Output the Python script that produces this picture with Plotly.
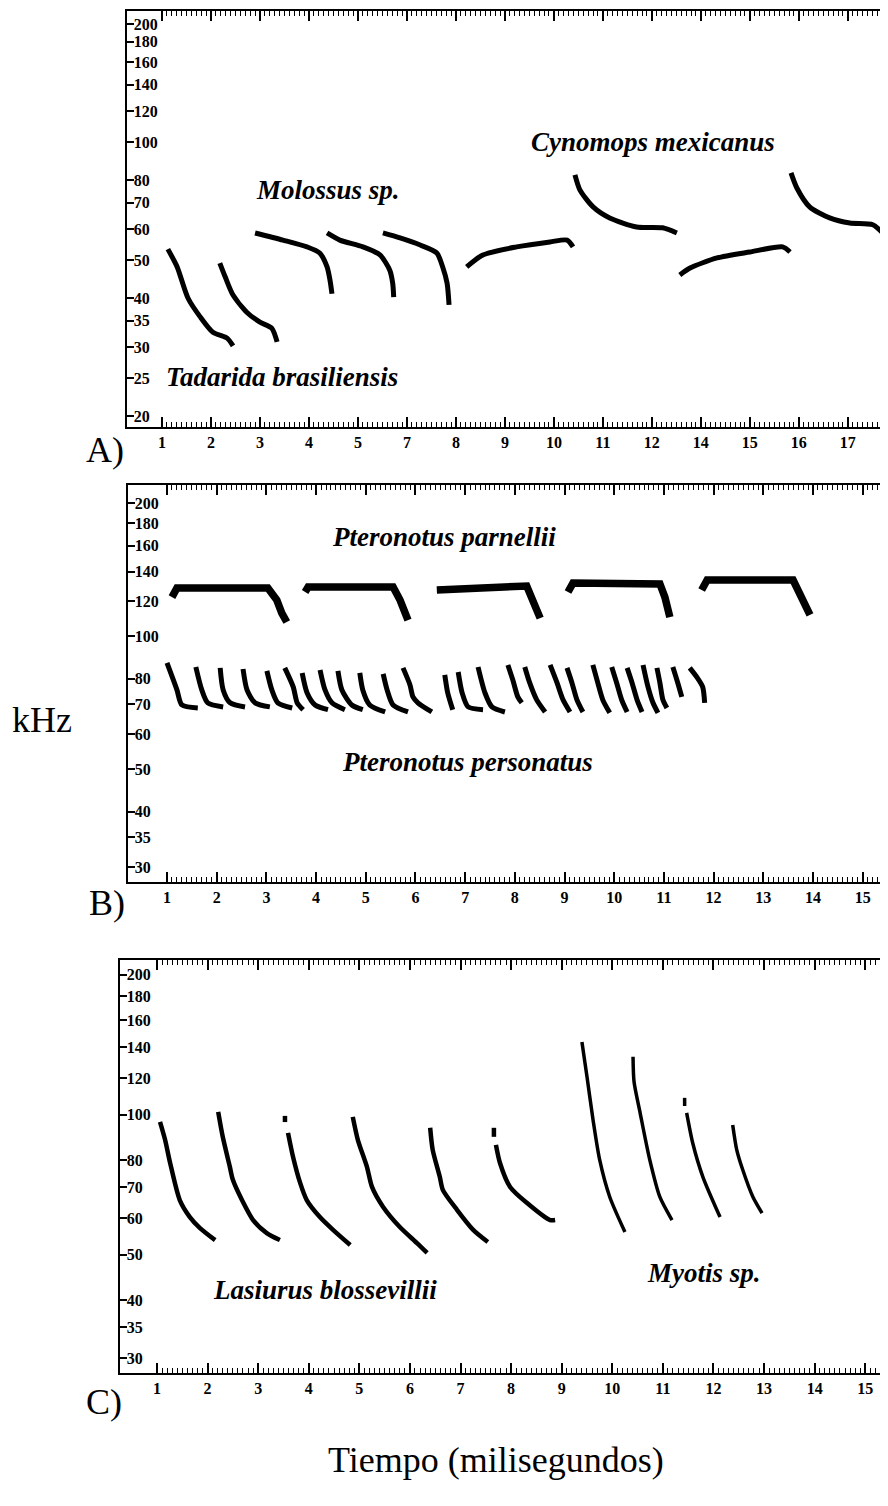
import numpy as np
import plotly.graph_objects as go

# ---------------- DATA ----------------
A_tick_pos = list(range(1, 16))
A_tick_text = ["1", "2", "3", "4", "5", "7", "8", "9", "10", "11", "12", "14", "15", "16", "17"]
B_tick_pos = list(range(1, 16))
B_tick_text = [str(i) for i in range(1, 16)]
C_tick_pos = list(range(1, 16))
C_tick_text = [str(i) for i in range(1, 16)]

A_freq_ticks = [20, 25, 30, 35, 40, 50, 60, 70, 80, 100, 120, 140, 160, 180, 200]
BC_freq_ticks = [30, 35, 40, 50, 60, 70, 80, 100, 120, 140, 160, 180, 200]

# Panel A calls (time, kHz)
tadarida_t = [[1.12, 1.31, 1.53, 1.78, 2.04, 2.33, 2.45],
              [2.18, 2.29, 2.45, 2.73, 3.00, 3.24, 3.35]]
tadarida_f = [[53.3, 48.0, 40.0, 35.8, 32.7, 31.6, 30.2],
              [49.1, 45.3, 40.7, 36.8, 34.7, 33.5, 30.9]]

molossus_t = [[2.90, 3.47, 3.96, 4.22, 4.37, 4.43, 4.47],
              [4.37, 4.63, 5.10, 5.45, 5.65, 5.71, 5.73],
              [5.51, 5.86, 6.27, 6.61, 6.73, 6.82, 6.86]]
molossus_f = [[58.6, 56.2, 54.0, 52.1, 48.0, 44.4, 41.0],
              [58.6, 56.2, 54.0, 51.5, 47.1, 43.6, 40.2],
              [58.6, 56.9, 54.6, 52.1, 48.0, 43.6, 38.4]]

upsweep_t = [[7.22, 7.55, 8.24, 8.92, 9.27, 9.39],
             [11.57, 11.78, 12.33, 13.00, 13.67, 13.82]]
upsweep_f = [[48.0, 51.5, 54.0, 55.6, 56.2, 54.0],
             [45.8, 47.7, 50.6, 52.4, 54.0, 52.4]]

cynomops_t = [[9.43, 9.53, 9.80, 10.14, 10.69, 11.22, 11.51],
              [13.84, 13.96, 14.22, 14.63, 15.04, 15.51, 15.71]]
cynomops_f = [[82.4, 75.5, 68.3, 64.0, 60.7, 60.4, 58.6],
              [83.4, 76.3, 68.3, 64.0, 62.1, 61.5, 58.6]]

# Panel B calls
parnellii_t = [[1.10, 1.20, 3.03, 3.21, 3.31, 3.41],
               [3.78, 3.84, 5.55, 5.69, 5.85],
               [6.43, 8.24, 8.40, 8.51],
               [9.07, 9.17, 10.92, 11.02, 11.12],
               [11.76, 11.87, 13.60, 13.74, 13.94]]
parnellii_f = [[122.5, 128.5, 128.5, 120.6, 112.7, 107.6],
               [125.8, 129.1, 129.1, 120.6, 108.7],
               [127.1, 129.8, 117.5, 109.8],
               [125.8, 131.8, 131.2, 122.5, 110.4],
               [127.1, 133.9, 133.9, 125.1, 111.6]]

personatus_t = [[1.00, 1.20, 1.30, 1.62], [1.58, 1.70, 1.82, 2.13], [2.07, 2.13, 2.27, 2.57],
                [2.53, 2.61, 2.77, 3.07], [3.01, 3.11, 3.23, 3.52], [3.37, 3.54, 3.62, 3.74],
                [3.72, 3.82, 3.98, 4.24], [4.08, 4.18, 4.32, 4.58], [4.44, 4.52, 4.72, 4.94],
                [4.88, 4.94, 5.08, 5.39], [5.35, 5.43, 5.55, 5.85], [5.75, 5.89, 5.95, 6.05, 6.33],
                [6.59, 6.65, 6.75], [6.86, 6.94, 7.06, 7.36], [7.26, 7.40, 7.54, 7.80],
                [7.86, 7.96, 8.06, 8.14], [8.20, 8.30, 8.44, 8.61], [8.71, 8.85, 8.97, 9.11],
                [9.05, 9.15, 9.25, 9.37], [9.57, 9.67, 9.77, 9.91], [9.95, 10.05, 10.15, 10.26],
                [10.26, 10.36, 10.46, 10.56], [10.58, 10.68, 10.78, 10.88], [10.86, 10.92, 10.98, 11.06],
                [11.18, 11.28, 11.36], [11.52, 11.66, 11.78, 11.82]]
personatus_f = [[86.9, 75.5, 69.8, 68.7], [85.1, 75.5, 70.6, 69.1], [84.7, 75.5, 70.6, 69.1],
                [84.2, 75.5, 70.6, 69.1], [83.4, 75.5, 70.6, 68.7], [84.7, 76.7, 70.6, 68.1],
                [82.5, 74.3, 69.8, 68.1], [83.8, 75.5, 70.6, 68.1], [83.4, 75.5, 69.8, 68.1],
                [82.5, 75.5, 69.8, 67.3], [82.1, 75.5, 69.8, 67.3], [84.7, 77.5, 72.8, 70.6, 67.3],
                [81.7, 74.3, 68.1], [82.9, 74.3, 69.1, 68.1], [85.1, 74.3, 69.1, 67.3],
                [86.0, 79.5, 72.8, 70.6], [85.1, 78.3, 71.7, 67.3], [86.0, 78.3, 71.7, 67.3],
                [84.7, 78.3, 71.7, 67.3], [86.0, 78.3, 71.7, 67.0], [85.1, 78.3, 71.7, 67.3],
                [84.7, 78.3, 71.7, 67.3], [86.0, 76.7, 70.6, 67.0], [84.7, 78.3, 71.7, 68.7],
                [85.1, 78.3, 72.8], [84.7, 80.8, 76.7, 70.6]]

# Panel C calls
lasiurus_t = [[1.06, 1.16, 1.26, 1.45, 1.65, 1.85, 2.15],
              [2.21, 2.30, 2.44, 2.50, 2.68, 2.90, 3.17, 3.43],
              [3.53, 3.53],
              [3.59, 3.69, 3.83, 3.96, 4.22, 4.48, 4.82],
              [4.87, 4.97, 5.15, 5.25, 5.47, 5.80, 6.14, 6.34],
              [6.40, 6.45, 6.59, 6.65, 6.93, 7.25, 7.54],
              [7.66, 7.66],
              [7.70, 7.78, 7.98, 8.31, 8.77, 8.87]]
lasiurus_f = [[96.6, 88.4, 78.8, 65.6, 60.3, 57.1, 53.8],
              [101.5, 89.7, 77.3, 72.5, 65.6, 59.4, 55.7, 53.8],
              [99.5, 96.5],
              [91.5, 81.2, 71.4, 65.6, 60.3, 56.6, 52.5],
              [99.0, 88.4, 77.3, 70.0, 63.4, 57.4, 53.0, 50.5],
              [93.8, 84.1, 73.6, 69.0, 62.5, 56.6, 53.3],
              [93.8, 89.7],
              [86.2, 78.8, 70.0, 64.7, 59.4, 59.4]]

myotis_t = [[9.40, 9.50, 9.62, 9.75, 9.95, 10.25],
            [10.41, 10.43, 10.55, 10.74, 10.94, 11.18],
            [11.43, 11.43],
            [11.47, 11.59, 11.79, 12.13],
            [12.38, 12.46, 12.58, 12.78, 12.96]]
myotis_f = [[143.5, 120.7, 97.5, 80.1, 66.6, 56.0],
            [133.3, 117.8, 101.0, 80.1, 66.6, 59.4],
            [108.8, 104.5],
            [101.0, 87.0, 73.6, 60.3],
            [95.1, 84.1, 76.1, 66.6, 61.5]]

# ---------------- FIGURE ----------------
OFF = 8                       # default page margin of the html body
W, H = 888 - OFF, 1506 - OFF
SERIF = "Liberation Serif, Times New Roman, serif"
fig = go.Figure()


def add_calls(ts, fs, xa, ya, width, shape="spline"):
    for t, f in zip(ts, fs):
        line = dict(color="black", width=width, shape=shape)
        if shape == "spline":
            line["smoothing"] = 0.7
        fig.add_trace(go.Scatter(x=t, y=f, mode="lines", line=line,
                                 xaxis=xa, yaxis=ya, showlegend=False, hoverinfo="skip"))


add_calls(tadarida_t, tadarida_f, "x", "y", 5)
add_calls(molossus_t, molossus_f, "x", "y", 5)
add_calls(upsweep_t, upsweep_f, "x", "y", 5)
add_calls(cynomops_t, cynomops_f, "x", "y", 5)
add_calls(parnellii_t, parnellii_f, "x2", "y2", 7.5, shape="linear")
add_calls(personatus_t, personatus_f, "x2", "y2", 5)
add_calls(lasiurus_t, lasiurus_f, "x3", "y3", 4.5)
add_calls(myotis_t, myotis_f, "x3", "y3", 3.5)


def minor_vals(rng):
    v = np.round(np.arange(1.0, rng[1], 0.1), 2)
    return [float(a) for a in v if abs(a - round(a)) > 1e-6]


def xaxis_def(rng, tickpos, ticktext, left_px, anchor):
    return dict(
        domain=[(left_px - OFF) / W, 1], range=rng, anchor=anchor,
        showline=True, linecolor="black", linewidth=2, mirror="ticks",
        ticks="inside", ticklen=10, tickwidth=1.5, tickcolor="black",
        tickmode="array", tickvals=tickpos, ticktext=ticktext,
        showgrid=False, zeroline=False,
        tickfont=dict(family=SERIF, size=16, color="black", weight=700),
        minor=dict(tickmode="array", tickvals=minor_vals(rng), ticks="inside",
                   ticklen=5, tickwidth=1, tickcolor="black", showgrid=False),
    )


def yaxis_def(rng, top_px, bottom_px, tickvals, anchor):
    return dict(
        type="log", domain=[1 - (bottom_px - OFF) / H, 1 - (top_px - OFF) / H],
        range=rng, anchor=anchor,
        showline=True, linecolor="black", linewidth=2, mirror=False,
        ticks="inside", ticklen=7, tickwidth=2, tickcolor="black",
        ticklabelposition="inside",
        tickmode="array", tickvals=tickvals, ticktext=[str(v) for v in tickvals],
        showgrid=False, zeroline=False,
        tickfont=dict(family=SERIF, size=16, color="black", weight=700),
    )


fig.update_layout(
    width=W, height=H,
    margin=dict(l=0, r=0, t=0, b=0),
    paper_bgcolor="white", plot_bgcolor="white",
    showlegend=False,
    xaxis=xaxis_def([0.286, 15.82], A_tick_pos, A_tick_text, 127, "y"),
    yaxis=yaxis_def([1.273, 2.334], 11, 427, A_freq_ticks, "x"),
    xaxis2=xaxis_def([0.215, 15.51], B_tick_pos, B_tick_text, 128, "y2"),
    yaxis2=yaxis_def([1.443, 2.342], 485, 882, BC_freq_ticks, "x2"),
    xaxis3=xaxis_def([0.269, 15.45], C_tick_pos, C_tick_text, 120, "y3"),
    yaxis3=yaxis_def([1.445, 2.333], 960, 1373, BC_freq_ticks, "x3"),
)

sp_font = dict(family=SERIF, size=27, color="black")
species = [
    ("Molossus sp.", "x", "y", 4.39, 75.3),
    ("Cynomops mexicanus", "x", "y", 11.02, 100.0),
    ("Tadarida brasiliensis", "x", "y", 3.45, 25.1),
    ("Pteronotus parnellii", "x2", "y2", 6.57, 167.5),
    ("Pteronotus personatus", "x2", "y2", 7.04, 51.9),
    ("Lasiurus blossevillii", "x3", "y3", 4.32, 42.0),
    ("Myotis sp.", "x3", "y3", 11.81, 45.7),
]
for name, xr, yr, xv, yv in species:
    fig.add_annotation(text=f"<b><i>{name}</i></b>", x=xv, y=float(np.log10(yv)),
                       xref=xr, yref=yr, showarrow=False, font=sp_font,
                       xanchor="center", yanchor="middle")

big = dict(family=SERIF, size=36, color="black")
for txt, px, py in [("A)", 105, 450), ("B)", 107, 903), ("C)", 104, 1402),
                    ("kHz", 42, 720), ("Tiempo (milisegundos)", 496, 1460)]:
    fig.add_annotation(text=txt, x=(px - OFF) / W, y=1 - (py - OFF) / H,
                       xref="paper", yref="paper",
                       showarrow=False, font=big, xanchor="center", yanchor="middle")

fig.write_html("out.html")
